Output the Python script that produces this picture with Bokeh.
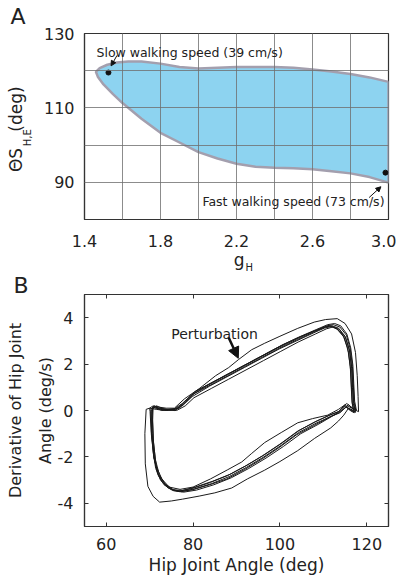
import math
from bokeh.plotting import figure
from bokeh.layouts import column
from bokeh.models import (Label, Arrow, NormalHead, FixedTicker, LinearAxis,
                          NumeralTickFormatter, Title)
from bokeh.embed import file_html
from bokeh.resources import INLINE

FONT = "DejaVu Sans"
INK = "#222222"
NB = "\u00a0"

# ---------------- Panel A data ----------------
gh_upper = [1.46, 1.48, 1.52, 1.57, 1.63, 1.70, 1.80, 1.90, 2.00, 2.10, 2.20, 2.40, 2.50, 2.60, 2.70, 2.80, 2.90, 3.00]
theta_upper = [119.7, 120.7, 121.6, 122.2, 122.5, 122.5, 121.9, 121.0, 120.6, 120.8, 121.0, 121.0, 120.8, 120.3, 119.8, 119.1, 118.2, 117.0]
gh_lower = [3.00, 2.90, 2.80, 2.70, 2.60, 2.50, 2.40, 2.30, 2.20, 2.10, 2.00, 1.90, 1.80, 1.70, 1.60, 1.55, 1.50, 1.47]
theta_lower = [89.9, 91.4, 92.4, 93.0, 93.5, 93.8, 93.9, 94.2, 95.0, 96.4, 98.1, 100.7, 103.3, 107.1, 111.3, 113.7, 116.3, 118.4]
speed_gh = [1.526, 2.984]
speed_theta = [119.5, 92.6]
speed_labels = ["Slow walking speed (39 cm/s)", "Fast walking speed (73 cm/s)"]
a_xticks = [1.4, 1.8, 2.2, 2.6, 3.0]
a_xminor = [1.6, 2.0, 2.4, 2.8]
a_yticks = [90, 110, 130]
a_yminor = [80, 100, 120]

# ---------------- Panel B data (limit cycles) ----------------
x1 = [70.6, 71.3, 72.5, 74.0, 76.0, 78.0, 80.0, 84.0, 88.0, 92.0, 96.0, 100.0, 104.0, 108.0, 110.5, 112.0, 113.5, 115.0, 116.0, 116.5, 116.7, 116.9, 117.3, 116.0, 115.0, 113.5, 111.5, 108.0, 104.0, 100.0, 96.0, 92.0, 88.0, 84.0, 80.0, 77.0, 75.0, 73.0, 71.8, 71.0, 70.6, 70.5, 70.6]
y1 = [0.1, 0.15, 0.05, 0.0, 0.05, 0.3, 0.7, 1.1, 1.5, 1.9, 2.3, 2.7, 3.05, 3.4, 3.6, 3.65, 3.55, 3.2, 2.6, 1.8, 1.0, 0.3, -0.05, 0.05, 0.2, -0.05, -0.2, -0.5, -0.9, -1.45, -1.95, -2.4, -2.8, -3.1, -3.35, -3.47, -3.4, -3.1, -2.7, -2.0, -1.0, 0.0, 0.1]
x2 = [70.3, 71.0, 72.2, 73.8, 75.8, 77.8, 79.8, 83.8, 87.8, 91.8, 95.8, 99.8, 103.8, 107.8, 110.2, 111.8, 113.2, 114.8, 115.8, 116.3, 116.5, 116.7, 117.1, 116.2, 115.2, 113.8, 111.8, 108.3, 104.3, 100.3, 96.3, 92.3, 88.3, 84.3, 80.3, 77.3, 75.3, 73.3, 72.0, 71.1, 70.5, 70.3, 70.3]
y2 = [0.05, 0.2, 0.1, 0.05, 0.0, 0.25, 0.6, 1.05, 1.45, 1.85, 2.25, 2.65, 3.0, 3.35, 3.55, 3.62, 3.5, 3.15, 2.5, 1.7, 0.9, 0.25, -0.1, 0.0, 0.15, -0.1, -0.25, -0.55, -0.95, -1.5, -2.0, -2.45, -2.85, -3.15, -3.38, -3.5, -3.45, -3.2, -2.8, -2.1, -1.1, -0.05, 0.05]
x3 = [70.0, 70.8, 72.0, 73.8, 75.7, 78.0, 81.4, 85.2, 88.2, 90.5, 93.5, 96.5, 100.0, 104.1, 107.9, 110.5, 113.2, 115.0, 116.5, 117.4, 117.8, 118.0, 118.1, 117.0, 115.8, 114.2, 112.0, 108.5, 104.5, 100.5, 96.5, 92.5, 88.5, 84.5, 80.5, 77.5, 75.5, 73.5, 72.0, 71.0, 70.4, 70.1, 70.0]
y3 = [0.1, 0.2, 0.15, 0.1, 0.1, 0.5, 0.94, 1.5, 1.85, 2.2, 2.62, 2.9, 3.2, 3.54, 3.81, 3.92, 3.96, 3.75, 3.3, 2.5, 1.5, 0.6, -0.05, 0.05, 0.25, 0.0, -0.15, -0.45, -0.85, -1.4, -1.9, -2.35, -2.75, -3.05, -3.3, -3.45, -3.42, -3.15, -2.75, -2.05, -1.05, -0.05, 0.1]
x4 = [69.2, 70.0, 71.5, 73.5, 75.5, 77.5, 79.5, 83.5, 87.5, 91.5, 95.5, 99.5, 103.5, 107.5, 110.0, 111.5, 113.0, 114.5, 115.6, 116.2, 116.4, 116.6, 117.0, 115.8, 114.7, 113.5, 111.7, 108.0, 104.1, 100.0, 96.5, 92.5, 88.9, 85.0, 81.4, 77.6, 75.0, 72.3, 70.8, 69.6, 69.0, 68.9, 69.2]
y4 = [0.05, 0.1, 0.05, 0.0, 0.05, 0.3, 0.65, 1.1, 1.5, 1.9, 2.3, 2.7, 3.05, 3.4, 3.58, 3.65, 3.55, 3.25, 2.7, 1.9, 1.1, 0.35, 0.0, 0.1, -0.2, -0.45, -0.75, -1.2, -1.73, -2.2, -2.57, -2.95, -3.34, -3.55, -3.69, -3.82, -3.9, -3.95, -3.7, -3.27, -2.3, -1.0, 0.05]
x5 = [70.8, 71.5, 72.8, 74.3, 76.3, 78.3, 80.3, 84.3, 88.3, 92.3, 96.3, 100.3, 104.3, 108.3, 110.8, 112.3, 113.8, 115.3, 116.2, 116.7, 116.9, 117.1, 117.5, 116.4, 115.4, 113.5, 111.0, 107.5, 104.1, 100.3, 96.5, 93.5, 91.2, 88.0, 84.0, 80.0, 77.0, 74.5, 72.8, 71.5, 70.9, 70.7, 70.8]
y5 = [0.15, 0.1, 0.0, 0.05, 0.1, 0.4, 0.8, 1.2, 1.6, 2.0, 2.4, 2.8, 3.15, 3.45, 3.65, 3.7, 3.6, 3.25, 2.65, 1.9, 1.1, 0.35, 0.0, 0.15, 0.3, 0.05, -0.2, -0.35, -0.53, -0.95, -1.38, -1.85, -2.22, -2.55, -2.95, -3.3, -3.4, -3.3, -2.95, -2.4, -1.4, -0.4, 0.15]
x6 = [70.4, 71.0, 72.3, 74.2, 76.2, 78.2, 80.2, 84.2, 88.2, 92.2, 96.2, 100.2, 104.2, 108.2, 110.7, 112.2, 113.6, 115.1, 116.1, 116.6, 116.8, 117.0, 117.4, 116.3, 115.0, 113.3, 111.3, 107.8, 103.8, 99.8, 95.8, 91.8, 87.8, 83.8, 79.8, 76.8, 74.3, 72.5, 71.4, 70.8, 70.4, 70.3, 70.4]
y6 = [0.0, 0.12, 0.08, 0.02, 0.0, 0.2, 0.55, 0.95, 1.35, 1.75, 2.15, 2.55, 2.95, 3.3, 3.52, 3.6, 3.5, 3.15, 2.55, 1.75, 0.95, 0.3, -0.08, 0.0, 0.25, -0.1, -0.3, -0.65, -1.05, -1.6, -2.1, -2.55, -2.95, -3.2, -3.42, -3.5, -3.35, -3.0, -2.5, -1.8, -0.9, 0.0, 0.0]
x7 = [70.7, 71.6, 73.0, 74.8, 76.8, 78.8, 80.8, 84.8, 88.8, 92.8, 96.8, 100.8, 104.8, 108.5, 111.0, 112.6, 114.0, 115.4, 116.3, 116.8, 117.0, 117.2, 117.6, 116.5, 115.6, 114.0, 112.0, 108.8, 104.8, 100.8, 96.8, 92.8, 88.8, 84.8, 80.8, 77.8, 75.5, 73.6, 72.2, 71.3, 70.8, 70.6, 70.7]
y7 = [0.12, 0.2, 0.08, 0.03, 0.1, 0.45, 0.85, 1.25, 1.65, 2.05, 2.45, 2.85, 3.2, 3.5, 3.7, 3.75, 3.65, 3.3, 2.7, 1.95, 1.15, 0.4, 0.02, 0.1, 0.2, -0.05, -0.25, -0.6, -1.0, -1.55, -2.05, -2.5, -2.9, -3.2, -3.43, -3.52, -3.45, -3.2, -2.75, -2.1, -1.2, -0.2, 0.12]
b_xticks = [60, 80, 100, 120]
b_yticks = [-4, -2, 0, 2, 4]


def style_axis(ax, size="16px", standoff=8):
    ax.major_label_text_font = FONT
    ax.major_label_text_font_size = size
    ax.major_label_text_color = INK
    ax.major_label_standoff = standoff
    ax.axis_line_color = "#333333"
    ax.axis_line_width = 1.2
    ax.minor_tick_line_color = None
    ax.axis_label_text_font = FONT
    ax.axis_label_text_font_style = "normal"
    ax.axis_label_text_color = INK


def mk_label(text, x, y, size, x_offset=0, angle=0.0, align="left",
             baseline="alphabetic"):
    return Label(x=x, y=y, x_offset=x_offset, text=text, angle=angle,
                 text_font=FONT, text_font_size=size, text_color=INK,
                 text_align=align, text_baseline=baseline)


def panel_title(p, text, offset, valign, standoff):
    p.title = Title(text=text, align="left", offset=offset,
                    vertical_align=valign, standoff=standoff,
                    text_font=FONT, text_font_size="22px",
                    text_font_style="normal", text_color=INK)


# ================= Panel A =================
pA = figure(width=396, height=272, x_range=(1.4, 3.0), y_range=(80, 130),
            output_backend="svg", toolbar_location=None,
            min_border_left=84, min_border_right=8, min_border_top=33,
            min_border_bottom=51)
pA.patch(gh_upper + gh_lower, theta_upper + theta_lower,
         fill_color="#8dd3f0", line_color="#a39fae", line_width=2.5)
pA.scatter(speed_gh, speed_theta, size=5, color="#111111")

pA.xaxis.ticker = FixedTicker(ticks=a_xticks, minor_ticks=a_xminor)
pA.yaxis.ticker = FixedTicker(ticks=a_yticks, minor_ticks=a_yminor)
pA.xaxis.formatter = NumeralTickFormatter(format="0.0")
for ax in (pA.xaxis[0], pA.yaxis[0]):
    style_axis(ax)
    ax.major_tick_line_color = None
    ax.major_tick_out = 0
pA.xaxis.major_label_standoff = 11
pA.yaxis.major_label_standoff = 6
# x label g_H : "g" as axis label, subscript as a side-panel label
pA.xaxis.axis_label = NB + "g"
pA.xaxis.axis_label_text_font_size = "17px"
pA.xaxis.axis_label_standoff = 0
pA.add_layout(mk_label("H", 2.247, 66.97, "10px"), "right")
# y label Θ S_{H,E} (deg): subscript on the main axis, main text on an outer axis
pA.yaxis.axis_label = "H,E" + NB * 7
pA.yaxis.axis_label_text_font_size = "10px"
pA.yaxis.axis_label_standoff = 8
outer = LinearAxis(ticker=FixedTicker(ticks=[]), axis_label="ΘS" + NB * 3 + "(deg)" + NB)
style_axis(outer)
outer.axis_line_color = None
outer.major_tick_line_color = None
outer.major_tick_out = 0
outer.major_label_standoff = 0
outer.axis_label_text_font_size = "17px"
outer.axis_label_standoff = -7
pA.add_layout(outer, "left")

for g in (pA.xgrid[0], pA.ygrid[0]):
    g.grid_line_color = "#6f6f6f"
    g.grid_line_alpha = 0.8
    g.minor_grid_line_color = "#6f6f6f"
    g.minor_grid_line_alpha = 0.8
    g.level = "annotation"
pA.outline_line_color = "#333333"
pA.outline_line_width = 1.2
panel_title(pA, "A", -74, "top", 5)

pA.add_layout(mk_label(speed_labels[0], 1.463, 124.95, "12.5px"))
pA.add_layout(mk_label(speed_labels[1], 2.979, 84.79, "12.5px", align="right"))
pA.add_layout(Arrow(end=NormalHead(size=5, fill_color="#111111", line_color="#111111"),
                    x_start=1.571, y_start=124.1, x_end=1.540, y_end=121.3,
                    line_width=1, line_color="#111111"))
pA.add_layout(Arrow(end=NormalHead(size=5, fill_color="#111111", line_color="#111111"),
                    x_start=2.898, y_start=85.9, x_end=2.960, y_end=88.8,
                    line_width=1, line_color="#111111"))

# ================= Panel B =================
pB = figure(width=396, height=307, x_range=(55, 125), y_range=(-5, 5),
            output_backend="svg", toolbar_location=None,
            min_border_left=83, min_border_right=8, min_border_top=22,
            min_border_bottom=53)
pB.multi_line([x1, x2, x3, x4, x5, x6, x7], [y1, y2, y3, y4, y5, y6, y7],
              line_color="#1a1a1a", line_width=1)
pB.grid.visible = False
pB.xaxis.ticker = FixedTicker(ticks=b_xticks)
pB.yaxis.ticker = FixedTicker(ticks=b_yticks)
pB.yaxis.major_label_overrides = {t: str(t) for t in b_yticks}
for ax in (pB.xaxis[0], pB.yaxis[0]):
    style_axis(ax, size="16px", standoff=11)
    ax.major_tick_in = 4
    ax.major_tick_out = 0
    ax.major_tick_line_color = "#333333"
pB.xaxis.axis_label = "Hip Joint Angle (deg)"
pB.xaxis.axis_label_text_font_size = "17px"
pB.xaxis.axis_label_standoff = 2
pB.yaxis.axis_label = "Derivative of Hip Joint\nAngle (deg/s)"
pB.yaxis.axis_label_text_font_size = "16px"
pB.yaxis.axis_label_text_line_height = 1.55
pB.yaxis.axis_label_standoff = 0
for loc, tk in (("right", b_yticks), ("above", b_xticks)):
    ax = LinearAxis(ticker=FixedTicker(ticks=tk))
    ax.major_label_text_font_size = "1px"
    ax.major_label_text_color = None
    ax.major_label_standoff = 0
    ax.major_tick_in = 4
    ax.major_tick_out = 0
    ax.major_tick_line_color = "#333333"
    ax.minor_tick_line_color = None
    ax.axis_line_color = "#333333"
    ax.axis_line_width = 1.2
    pB.add_layout(ax, loc)
pB.outline_line_color = "#333333"
pB.outline_line_width = 1.2
panel_title(pB, "B", -71, "bottom", -7)

pB.add_layout(mk_label("Perturbation", 84.95, 3.276, "14px", align="center"))
pB.add_layout(Arrow(end=NormalHead(size=11, fill_color="#111111", line_color="#111111"),
                    x_start=88.21, y_start=3.14, x_end=90.41, y_end=2.25,
                    line_width=2.5, line_color="#111111"))

layout = column(pA, pB, spacing=0)
open("out.html", "w").write(file_html(layout, INLINE))
